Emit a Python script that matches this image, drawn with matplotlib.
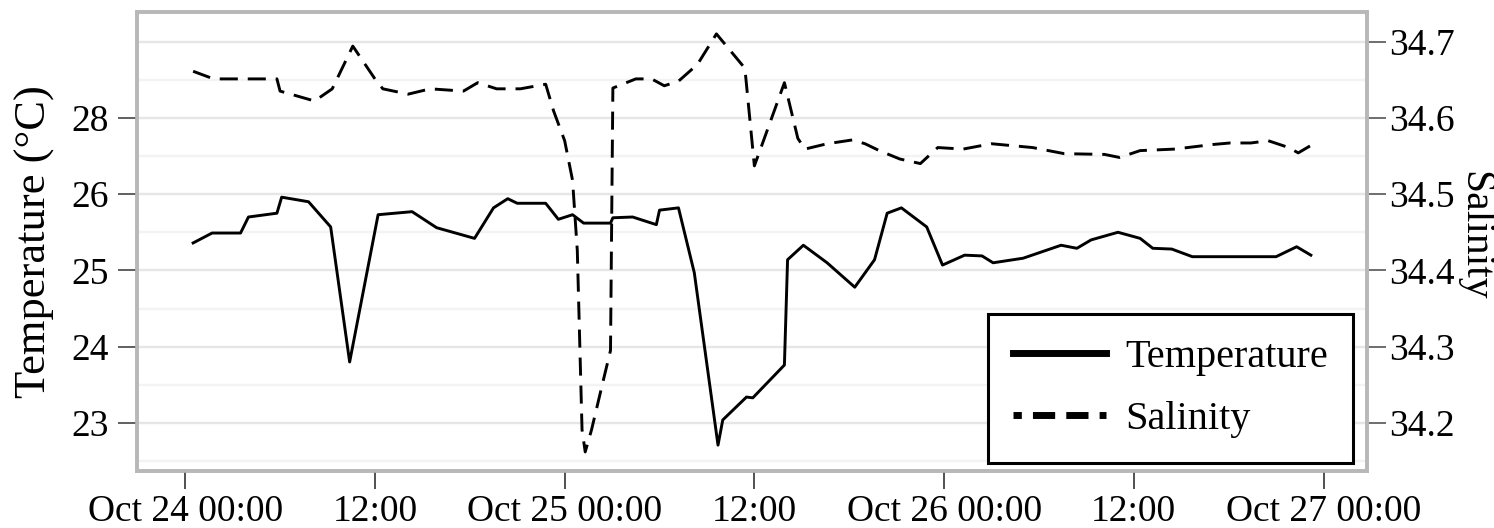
import numpy as np
import matplotlib
matplotlib.use("Agg")
import matplotlib.pyplot as plt
import matplotlib.dates as mdates
from matplotlib.ticker import FixedLocator, FixedFormatter, MultipleLocator
from matplotlib.lines import Line2D

plt.rcParams['font.family'] = ['Liberation Serif', 'DejaVu Serif']

# ---- data (hours after Oct 24 00:00) ----
temp_hours = [0.5, 1.7, 3.5, 4.0, 5.8, 6.1, 7.8, 9.2, 10.4, 12.2, 14.35, 15.9, 18.3, 19.5,
              20.4, 21.0, 22.8, 23.6, 24.5, 25.2, 26.9, 27.05, 28.3, 29.8, 30.0, 31.2,
              32.2, 33.7, 34.0, 35.5, 35.9, 37.9, 38.1, 39.1, 40.6, 42.35, 43.6, 44.4,
              45.3, 46.9, 47.9, 49.3, 50.4, 51.1, 53.0, 55.4, 56.4, 57.3, 59.0, 60.4,
              61.2, 62.4, 63.7, 69.0, 70.3, 71.2]
temperature = [25.36, 25.49, 25.49, 25.70, 25.75, 25.96, 25.90, 25.57, 23.80, 25.73, 25.77,
               25.56, 25.42, 25.82, 25.94, 25.88, 25.88, 25.67, 25.73, 25.62, 25.62, 25.69,
               25.70, 25.60, 25.79, 25.82, 24.97, 22.71, 23.04, 23.34, 23.33, 23.76, 25.14,
               25.33, 25.10, 24.78, 25.14, 25.75, 25.82, 25.57, 25.07, 25.20, 25.19, 25.10,
               25.16, 25.33, 25.29, 25.40, 25.50, 25.42, 25.29, 25.28, 25.18, 25.18, 25.31,
               25.20]

sal_hours = [0.5, 1.8, 5.8, 6.0, 8.2, 9.3, 10.6, 12.0, 12.5, 14.1, 15.5, 17.6, 18.5, 19.7,
             21.2, 22.8, 23.3, 24.0, 24.5, 24.8, 25.1, 25.3, 25.7, 26.4, 26.9, 27.05, 28.5,
             29.5, 30.3, 31.2, 32.4, 33.6, 35.0, 35.4, 36.0, 36.35, 37.9, 38.75, 39.2, 40.6,
             42.2, 43.0, 43.9, 45.2, 46.5, 47.6, 49.2, 51.0, 53.6, 55.6, 58.15, 59.1, 60.4,
             62.6, 65.0, 66.1, 67.4, 68.5, 69.8, 70.4, 71.3]
salinity = [34.661, 34.651, 34.651, 34.635, 34.622, 34.638, 34.694, 34.651, 34.638, 34.631,
            34.638, 34.635, 34.646, 34.638, 34.638, 34.644, 34.609, 34.570, 34.518, 34.426,
            34.191, 34.162, 34.191, 34.252, 34.295, 34.639, 34.651, 34.651, 34.642, 34.648,
            34.670, 34.710, 34.675, 34.665, 34.537, 34.557, 34.646, 34.573, 34.559, 34.566,
            34.571, 34.566, 34.557, 34.546, 34.540, 34.561, 34.559, 34.566, 34.561, 34.553,
            34.552, 34.548, 34.557, 34.559, 34.565, 34.567, 34.567, 34.570, 34.561, 34.554,
            34.565]

x_tick_hours = [0, 12, 24, 36, 48, 60, 72]
x_tick_labels = ["Oct 24 00:00", "12:00", "Oct 25 00:00", "12:00", "Oct 26 00:00", "12:00", "Oct 27 00:00"]
temp_ticks = [23, 24, 25, 26, 27]
temp_tick_labels = ["23", "24", "25", "26", "28"]
sal_ticks = [34.2, 34.3, 34.4, 34.5, 34.6, 34.7]
sal_tick_labels = ["34.2", "34.3", "34.4", "34.5", "34.6", "34.7"]

base = np.datetime64('2023-10-24T00:00')
def to_dates(hours):
    return mdates.date2num(base + (np.array(hours) * 60).astype('timedelta64[m]'))

t_temp = to_dates(temp_hours)
t_sal = to_dates(sal_hours)

W, H = 1494, 528
fig = plt.figure(figsize=(W / 100, H / 100), dpi=100)
ax = fig.add_axes([137/W, 1 - 471/H, (1367-137)/W, (471-12)/H])
ax2 = ax.twinx()
ax.set_zorder(ax2.get_zorder() + 1)
ax.patch.set_visible(False)
ax2.patch.set_facecolor('white')

ax.plot(t_temp, temperature, color='black', lw=2.1, solid_joinstyle='round')
ax2.plot(t_sal, salinity, color='black', lw=2.1, dashes=(6.2, 3.4))

ax.set_xlim(to_dates([-3.05])[0], to_dates([74.75])[0])
ax.set_ylim(22.371, 28.387)
ax2.set_ylim(34.137, 34.7387)

minor_hours = list(np.arange(-6, 80, 6))
ax.xaxis.set_major_locator(FixedLocator(to_dates(x_tick_hours)))
ax.xaxis.set_major_formatter(FixedFormatter(x_tick_labels))
ax.xaxis.set_minor_locator(FixedLocator(to_dates(minor_hours)))

ax.yaxis.set_major_locator(FixedLocator(temp_ticks))
ax.yaxis.set_major_formatter(FixedFormatter(temp_tick_labels))
ax2.yaxis.set_major_locator(FixedLocator(sal_ticks))
ax2.yaxis.set_major_formatter(FixedFormatter(sal_tick_labels))
ax2.yaxis.set_minor_locator(MultipleLocator(0.05))

ax2.set_axisbelow(True)
ax2.grid(True, which='major', axis='y', color='#e6e6e6', lw=1.7)
ax2.grid(True, which='minor', axis='y', color='#f3f3f3', lw=1.7)
ax2.xaxis.set_minor_locator(FixedLocator(to_dates(minor_hours)))
ax2.xaxis.set_major_locator(FixedLocator(to_dates(x_tick_hours)))
ax2.grid(True, which='major', axis='x', color='#e6e6e6', lw=1.7)
ax2.grid(True, which='minor', axis='x', color='#f3f3f3', lw=1.7)

for a in (ax, ax2):
    for s in a.spines.values():
        s.set_color('#b8b8b8')
        s.set_linewidth(2.6)

ax.tick_params(axis='x', which='major', length=13, width=1.2, color='#333333',
               labelsize=27, pad=4)
ax.tick_params(axis='x', which='minor', length=0)
ax.tick_params(axis='y', which='major', length=14, width=1.2, color='#444444',
               labelsize=27, pad=6)
ax2.tick_params(axis='y', which='major', length=14, width=1.2, color='#555555',
                labelsize=27, pad=2)
ax2.tick_params(axis='y', which='minor', length=0)
ax2.tick_params(axis='x', which='both', length=0, labelbottom=False)

ax.set_ylabel("Temperature (°C)", fontsize=32, labelpad=12)

# right axis title: baseline at ~x=1465 px, centred at y≈236 px
ax2.set_ylabel("Salinity", fontsize=30, rotation=270, rotation_mode='anchor',
               ha='center', va='baseline')
ax2.yaxis.set_label_coords((1464 - 137) / 1230, (471 - 236) / 459)

handles = [Line2D([], [], color='black', lw=5),
           Line2D([], [], color='black', lw=5, linestyle=(2.0, (3.2, 1.6)))]
leg = ax.legend(handles, ["Temperature", "Salinity"], loc='lower right',
                bbox_to_anchor=(0.9886, 0.0174), borderaxespad=0, fontsize=29,
                frameon=True, fancybox=False, edgecolor='black', handlelength=2.3,
                handletextpad=0.48, borderpad=0.62, labelspacing=0.62)
leg.get_frame().set_linewidth(2.2)
leg.get_frame().set_facecolor('white')
leg.get_frame().set_alpha(1)

fig.savefig("out.png", dpi=100)
